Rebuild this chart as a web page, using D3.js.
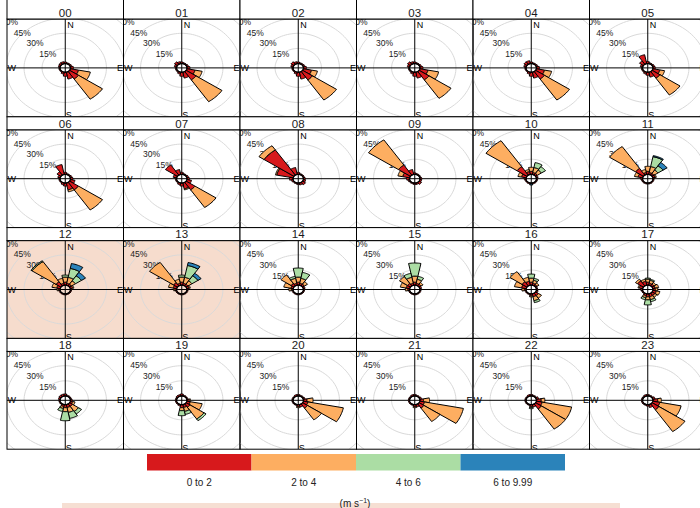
<!DOCTYPE html>
<html>
<head>
<meta charset="utf-8">
<style>
  body { margin: 0; background: #fff; }
  svg { font-family: "Liberation Sans", Arial, sans-serif; }
  .strip text { font-size: 11.5px; fill: #1a1a1a; }
  .grid-label { font-size: 8.5px; fill: #222; }
  .compass { font-size: 9px; fill: #000; }
  .legend text { font-size: 10px; fill: #222; }
</style>
</head>
<body>
<svg width="700" height="508"></svg>
<script src="https://d3js.org/d3.v7.min.js"></script>
<script>
// hour panels, speed bins, grid rings
const hours = ["00","01","02","03","04","05","06","07","08","09","10","11",
               "12","13","14","15","16","17","18","19","20","21","22","23"];
const speedBins = ["0 to 2", "2 to 4", "4 to 6", "6 to 9.99"];
const gridSteps = [0, 15, 30, 45, 60, 75];
const gridLabels = ["15%", "30%", "45%", "60%", "75%"];
const highlighted = ["12", "13"];
const sectorWidth = 22.5;

// [direction, % 0-2, % 2-4, % 4-6, % 6-9.99]
const rose00 = [[0,1.5],[22.5,1],[45,1],[67.5,1.5],[90,2.5],[112.5,7,10],[135,9,24],[157.5,7],[180,4],[202.5,2],[225,1],[247.5,1],[270,1],[292.5,1.5],[315,2],[337.5,2]];
const rose01 = [[0,1.5],[22.5,1],[45,1],[67.5,1.5],[90,2.5],[112.5,7,6],[135,10,26],[157.5,6],[180,4],[202.5,2],[225,1],[247.5,1],[270,1],[292.5,2],[315,3],[337.5,2]];
const rose02 = [[0,1.5],[22.5,1],[45,1],[67.5,1.5],[90,2.5],[112.5,7,5],[135,10,24],[157.5,7],[180,4],[202.5,2],[225,1],[247.5,1],[270,1],[292.5,2],[315,3],[337.5,2]];
const rose03 = [[0,1.5],[22.5,1],[45,1],[67.5,1.5],[90,2.5],[112.5,7,9],[135,10,22],[157.5,6],[180,4],[202.5,2],[225,1],[247.5,1],[270,1],[292.5,2],[315,3],[337.5,2]];
const rose04 = [[0,1.5],[22.5,1],[45,1],[67.5,1.5],[90,2.5],[112.5,7,6],[135,9,25],[157.5,6],[180,4],[202.5,2],[225,1],[247.5,1],[270,1],[292.5,2],[315,3],[337.5,3]];
const rose05 = [[0,2],[22.5,1],[45,1],[67.5,1.5],[90,2],[112.5,6,4],[135,8,20],[157.5,5],[180,3],[202.5,2],[225,1],[247.5,1],[270,1],[292.5,2],[315,4],[337.5,9]];
const rose06 = [[0,2],[22.5,1],[45,1],[67.5,1.5],[90,2],[112.5,4],[135,9,24],[157.5,7,2],[180,3],[202.5,2],[225,1],[247.5,1],[270,1],[292.5,2],[315,4],[337.5,10]];
const rose07 = [[0,2],[22.5,1],[45,1],[67.5,1.5],[90,2],[112.5,4],[135,9,21],[157.5,6,1],[180,3],[202.5,2],[225,1],[247.5,1],[270,1],[292.5,3],[315,12],[337.5,5]];
const rose08 = [[0,2],[22.5,1],[45,1],[67.5,1],[90,1.5],[112.5,2],[135,3],[157.5,2],[180,1.5],[202.5,1],[225,1],[247.5,1.5],[270,3],[292.5,14,1],[315,30,5],[337.5,7]];
const rose09 = [[0,1.5],[22.5,1],[45,1],[67.5,1],[90,1.5],[112.5,1.5],[135,2.5],[157.5,1.5],[180,1.5],[202.5,1],[225,1],[247.5,1.5],[270,2.5],[292.5,6,4],[315,12,30],[337.5,5]];
const rose10 = [[0,3,4],[22.5,2,5,5],[45,2,4,4],[67.5,1.5],[90,1],[112.5,1],[135,1],[157.5,1],[180,1,0,0,1],[202.5,1],[225,1],[247.5,1],[270,1.5],[292.5,4,3],[315,10,31],[337.5,3,2]];
const rose11 = [[0,3,5],[22.5,2,6,10,1],[45,2,4,5,4],[67.5,2,1],[90,1],[112.5,1],[135,1],[157.5,1],[180,1],[202.5,1],[225,1],[247.5,1],[270,1.5],[292.5,4,3],[315,8,26],[337.5,2,3]];
const rose12 = [[0,3,5,2],[22.5,2,6,9,5],[45,2,4,6,4],[67.5,2,1],[90,1],[112.5,1],[135,1],[157.5,1],[180,1],[202.5,1],[225,1],[247.5,1],[270,1.5,1],[292.5,3,4],[315,5,24,1],[337.5,2,5]];
const rose13 = [[0,3,5,2],[22.5,2,6,12,3],[45,2,4,6,3],[67.5,2,1],[90,1],[112.5,1],[135,1],[157.5,1],[180,1],[202.5,1],[225,1],[247.5,1],[270,1.5,1],[292.5,3,4],[315,4,24],[337.5,2,4]];
const rose14 = [[0,3,5,9],[22.5,2,5,6],[45,2,3],[67.5,1.5],[90,1],[112.5,1],[135,1],[157.5,1],[180,1],[202.5,1],[225,1],[247.5,1],[270,1.5,2],[292.5,2,6],[315,3,10],[337.5,2,5,2]];
const rose15 = [[0,3,6,13],[22.5,2,4,3],[45,2,2],[67.5,1.5],[90,1],[112.5,1],[135,1],[157.5,1],[180,1],[202.5,1],[225,1],[247.5,1],[270,1.5,2],[292.5,3,5],[315,3,8],[337.5,2,6,4]];
const rose16 = [[0,3,4,4],[22.5,2,3,2],[45,1.5,2],[67.5,1],[90,1],[112.5,1.5],[135,3,3],[157.5,3,4,2],[180,2,1],[202.5,1],[225,1],[247.5,1],[270,1.5,2],[292.5,4,6],[315,5,12],[337.5,4,4]];
const rose17 = [[0,3,3,1],[22.5,2,3,1],[45,2,2],[67.5,2,3],[90,2,2],[112.5,3,3],[135,3,2],[157.5,3,3,2],[180,3,3,5],[202.5,2,2,2],[225,1],[247.5,1],[270,1.5],[292.5,3,1],[315,6,2],[337.5,4,2]];
const rose18 = [[0,2],[22.5,1],[45,1],[67.5,1],[90,1.5],[112.5,2,2],[135,3,6,3],[157.5,3,5,6],[180,3,4,9],[202.5,2,2,3],[225,1],[247.5,1],[270,1],[292.5,1.5],[315,2],[337.5,2]];
const rose19 = [[0,2],[22.5,1],[45,1],[67.5,1],[90,2,1],[112.5,3,10],[135,4,14,2],[157.5,3,4,3],[180,3,3,5],[202.5,1.5],[225,1],[247.5,1],[270,1],[292.5,1],[315,1.5],[337.5,1.5]];
const rose20 = [[0,1.5],[22.5,1],[45,1],[67.5,1.5],[90,3,5],[112.5,4,30],[135,5,14],[157.5,2.5],[180,2,1],[202.5,1],[225,1],[247.5,1],[270,1],[292.5,1],[315,1],[337.5,1.5]];
const rose21 = [[0,1.5],[22.5,1],[45,1],[67.5,1.5],[90,3,5],[112.5,4,33],[135,5,16],[157.5,2.5],[180,2,1],[202.5,1],[225,1],[247.5,1],[270,1],[292.5,1],[315,1],[337.5,1.5]];
const rose22 = [[0,1.5],[22.5,1],[45,1],[67.5,2],[90,4,3],[112.5,5,25],[135,6,24],[157.5,2.5],[180,2,1,1],[202.5,1],[225,1],[247.5,1],[270,1],[292.5,1],[315,1],[337.5,1.5]];
const rose23 = [[0,1.5],[22.5,1],[45,1],[67.5,2],[90,4,3],[112.5,6,18],[135,7,26],[157.5,3],[180,1.5],[202.5,1],[225,1],[247.5,1],[270,1],[292.5,1],[315,1],[337.5,1.5]];

const roses = [rose00, rose01, rose02, rose03, rose04, rose05, rose06, rose07,
               rose08, rose09, rose10, rose11, rose12, rose13, rose14, rose15,
               rose16, rose17, rose18, rose19, rose20, rose21, rose22, rose23];

// layout
const speedColours = ["#d7191c", "#fdae61", "#abdda4", "#2b83ba"];
const limit = 48.5;      // % at panel edge
const offset = 4.3;      // centre hole
const colX0 = 7, colW = 116.5;
const rowY0 = 6, rowH = 110.8, stripH = 13;

const svg = d3.select("svg");
const rad = d => d * Math.PI / 180;

hours.forEach(function (h, i) {
    let col = i % 6, row = Math.floor(i / 6);
    let left = colX0 + col * colW, right = left + colW;
    let stripTop = rowY0 + row * rowH;
    let top = stripTop + stripH, bottom = rowY0 + (row + 1) * rowH;

    let x = d3.scaleLinear().domain([-limit, limit]).range([left, right]);
    let y = d3.scaleLinear().domain([-limit, limit]).range([bottom, top]);

    let g = svg.append("g");
    g.append("clipPath").attr("id", "clip" + h)
        .append("rect").attr("x", left).attr("y", top)
        .attr("width", colW).attr("height", bottom - top);

    let inner = g.append("g").attr("clip-path", `url(#clip${h})`);

    if (highlighted.indexOf(h) >= 0) {
        inner.append("rect").attr("x", left).attr("y", top)
            .attr("width", colW).attr("height", bottom - top)
            .style("fill", "#f6dccd");
    }

    // grey rings
    let angles = d3.range(0, 361, 3);
    let ring = r => d3.line()
        .x(a => x(r * Math.sin(rad(a))))
        .y(a => y(r * Math.cos(rad(a))))(angles);
    inner.selectAll(".ring").data(gridSteps).join("path")
        .attr("d", d => ring(d + offset))
        .style("fill", "none").style("stroke", "#d9d9d9").style("stroke-width", 1);

    inner.selectAll(".grid-label").data(gridLabels).join("text")
        .attr("class", "grid-label")
        .attr("x", (d, k) => x((gridSteps[k + 1] + offset) * Math.sin(rad(315))) - 1)
        .attr("y", (d, k) => y((gridSteps[k + 1] + offset) * Math.cos(rad(315))))
        .attr("text-anchor", "middle").attr("dy", "0.35em")
        .text(d => d);

    // axes
    inner.append("line").attr("x1", x(-limit)).attr("x2", x(limit))
        .attr("y1", y(0)).attr("y2", y(0)).style("stroke", "#000");
    inner.append("line").attr("x1", x(0)).attr("x2", x(0))
        .attr("y1", y(-limit)).attr("y2", y(limit)).style("stroke", "#000");

    // wedges, stacked by speed
    let wedges = [];
    roses[i].forEach(function (e) {
        let cum = 0;
        for (let k = 0; k < speedBins.length; k++) {
            let v = e[k + 1] || 0;
            if (k > 0 && v === 0) continue;
            wedges.push({ dir: e[0], r0: cum + offset, r1: cum + v + offset, bin: k });
            cum += v;
        }
    });
    let wedgePath = function (d) {
        let t = d3.range(0, 11).map(k => rad(d.dir - sectorWidth / 2 + sectorWidth * k / 10));
        let pts = t.map(a => [x(d.r0 * Math.sin(a)), y(d.r0 * Math.cos(a))])
            .concat(t.slice().reverse().map(a => [x(d.r1 * Math.sin(a)), y(d.r1 * Math.cos(a))]));
        return d3.line()(pts) + "Z";
    };
    inner.selectAll(".wedge").data(wedges).join("path")
        .attr("d", wedgePath)
        .style("fill", d => speedColours[d.bin])
        .style("stroke", "#000").style("stroke-width", 1)
        .style("stroke-linejoin", "round");

    // hole outline
    inner.append("path").attr("d", ring(offset))
        .style("fill", "none").style("stroke", "#000").style("stroke-width", 1.3);

    // compass letters
    inner.append("text").attr("class", "compass").attr("x", x(0) + 2).attr("y", top + 9).text("N");
    inner.append("text").attr("class", "compass").attr("x", x(0) + 0.5).attr("y", bottom + 1.5).text("S");
    inner.append("text").attr("class", "compass").attr("x", left + 0.5).attr("y", y(0)).attr("dy", "0.35em").text("W");
    inner.append("text").attr("class", "compass").attr("x", right - 0.5).attr("y", y(0)).attr("dy", "0.35em")
        .attr("text-anchor", "end").text("E");

    // panel border and strip (top row's strip runs off the top of the page)
    g.append("rect").attr("x", left).attr("y", top).attr("width", colW).attr("height", bottom - top)
        .style("fill", "none").style("stroke", "#000");
    let strip = g.append("g").attr("class", "strip");
    let boxTop = row === 0 ? -4 : stripTop;
    strip.append("rect").attr("x", left).attr("y", boxTop).attr("width", colW).attr("height", top - boxTop)
        .style("fill", "#fff").style("stroke", "#000");
    strip.append("text").attr("x", (left + right) / 2).attr("y", stripTop + stripH / 2)
        .attr("dy", "0.38em").attr("text-anchor", "middle").text(h);
});

// legend
let legendX = d3.scaleBand().domain(speedBins).range([147, 565]);
let legend = svg.append("g").attr("class", "legend");
legend.append("rect").attr("x", 62).attr("y", 503).attr("width", 558).attr("height", 6).style("fill", "#f6dfd3");
legend.selectAll("rect.key").data(speedBins).join("rect").attr("class", "key")
    .attr("x", d => legendX(d)).attr("y", 454)
    .attr("width", legendX.bandwidth()).attr("height", 16.5)
    .style("fill", (d, k) => speedColours[k]);
legend.selectAll("text.key").data(speedBins).join("text").attr("class", "key")
    .attr("x", d => legendX(d) + legendX.bandwidth() / 2).attr("y", 482).attr("dy", "0.35em")
    .attr("text-anchor", "middle").text(d => d);
let unit = legend.append("text").attr("x", 355).attr("y", 507).attr("text-anchor", "middle");
unit.append("tspan").text("(m s");
unit.append("tspan").attr("dy", -4).style("font-size", "7px").text("\u22121");
unit.append("tspan").attr("dy", 4).text(")");
</script>
</body>
</html>
